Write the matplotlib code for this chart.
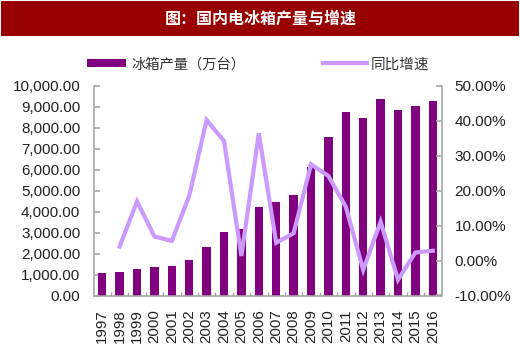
import matplotlib
matplotlib.use("Agg")
import matplotlib.pyplot as plt
from matplotlib.patches import Rectangle, Patch
from matplotlib.lines import Line2D
from matplotlib.ticker import FuncFormatter
import numpy as np

plt.rcParams['font.family'] = ['Liberation Sans', 'Noto Sans CJK SC', 'DejaVu Sans']

years = ['1997', '1998', '1999', '2000', '2001', '2002', '2003', '2004', '2005', '2006',
         '2007', '2008', '2009', '2010', '2011', '2012', '2013', '2014', '2015', '2016']
production = [1060, 1110, 1270, 1340, 1410, 1670, 2290, 3050, 3160, 4240,
              4460, 4790, 6110, 7580, 8730, 8470, 9360, 8830, 9030, 9280]
growth_years = years[1:]
growth = [4.0, 16.9, 6.9, 5.6, 18.5, 40.2, 34.2, 1.3, 36.4,
          5.1, 7.8, 27.5, 24.2, 15.4, -2.7, 11.1, -5.5, 2.3, 2.8]

title = '图：国内电冰箱产量与增速'
bar_label = '冰箱产量（万台）'
line_label = '同比增速'

W, H = 520, 364
fig = plt.figure(figsize=(W / 100, H / 100), dpi=100)

# title banner
fig.patches.append(Rectangle((1 / W, 1 - 36 / H), 518 / W, 35 / H, transform=fig.transFigure,
                             facecolor='#990000', edgecolor='none'))
fig.text(261 / W, 1 - 19 / H, title, color='white', fontsize=11.5, fontweight='bold',
         ha='center', va='center', family=['Noto Sans CJK SC', 'DejaVu Sans'])

left, right = 93.5, 441.5
top, bottom = 85.8, 295.5
ax = fig.add_axes([left / W, 1 - bottom / H, (right - left) / W, (bottom - top) / H])
ax2 = ax.twinx()

x = np.arange(len(years))
bar_color = '#800080'
line_color = '#CC99FF'
ax.bar(x, production, width=0.48, color=bar_color, zorder=2)
gx = np.arange(1, len(years))
ax2.plot(gx, growth, color=line_color, lw=3.0, solid_joinstyle='miter', zorder=3)

ax.set_xlim(-0.5, len(years) - 0.5)
ax.set_ylim(0, 10000)
ax2.set_ylim(-10, 50)
ax.set_yticks(np.arange(0, 10001, 1000))
ax.yaxis.set_major_formatter(FuncFormatter(lambda v, p: f'{v:,.2f}'))
ax2.set_yticks(np.arange(-10, 51, 10))
ax2.yaxis.set_major_formatter(FuncFormatter(lambda v, p: f'{v:.2f}%'))

# x ticks: labels at centers, tick marks between categories
ax.set_xticks(x)
ax.set_xticklabels(years, rotation=90)
ax.set_xticks(np.arange(0.5, len(years) - 0.5, 1), minor=True)
ax.tick_params(axis='x', which='major', length=0, pad=10, labelsize=10.8, labelcolor='#222222')
ax.tick_params(axis='x', which='minor', direction='in', length=3, color='#A6A6A6', width=1)

ax.tick_params(axis='y', direction='in', length=4, color='#A6A6A6', width=1.2,
               labelsize=11, labelcolor='#222222', pad=9.5)
ax2.tick_params(axis='y', direction='in', length=4, color='#A6A6A6', width=1.2,
                labelsize=11, labelcolor='#222222', pad=9.5)

for a in (ax, ax2):
    for s in a.spines.values():
        s.set_visible(False)
ax.spines['left'].set_visible(True)
ax.spines['bottom'].set_visible(True)
ax2.spines['right'].set_visible(True)
for s in (ax.spines['left'], ax.spines['bottom'], ax2.spines['right']):
    s.set_color('#A6A6A6')
    s.set_linewidth(1.2)

# legends
lf = ['Noto Sans CJK SC', 'DejaVu Sans']
leg1 = fig.legend(handles=[Patch(facecolor=bar_color, edgecolor='none', label=bar_label)],
                  loc='center left', bbox_to_anchor=(86.7 / W, 1 - 64.5 / H), frameon=False,
                  borderpad=0, borderaxespad=0, handlelength=2.75, handleheight=0.5,
                  handletextpad=0.4, prop={'family': lf, 'size': 10.3})
for t in leg1.get_texts():
    t.set_color('#333333')
leg2 = fig.legend(handles=[Line2D([0], [0], color=line_color, lw=3.0, label=line_label)],
                  loc='center left', bbox_to_anchor=(323 / W, 1 - 64.5 / H), frameon=False,
                  borderpad=0, borderaxespad=0, handlelength=3.0,
                  handletextpad=0.25, prop={'family': lf, 'size': 10.5})
for t in leg2.get_texts():
    t.set_color('#333333')

fig.savefig('out.png', dpi=100)
